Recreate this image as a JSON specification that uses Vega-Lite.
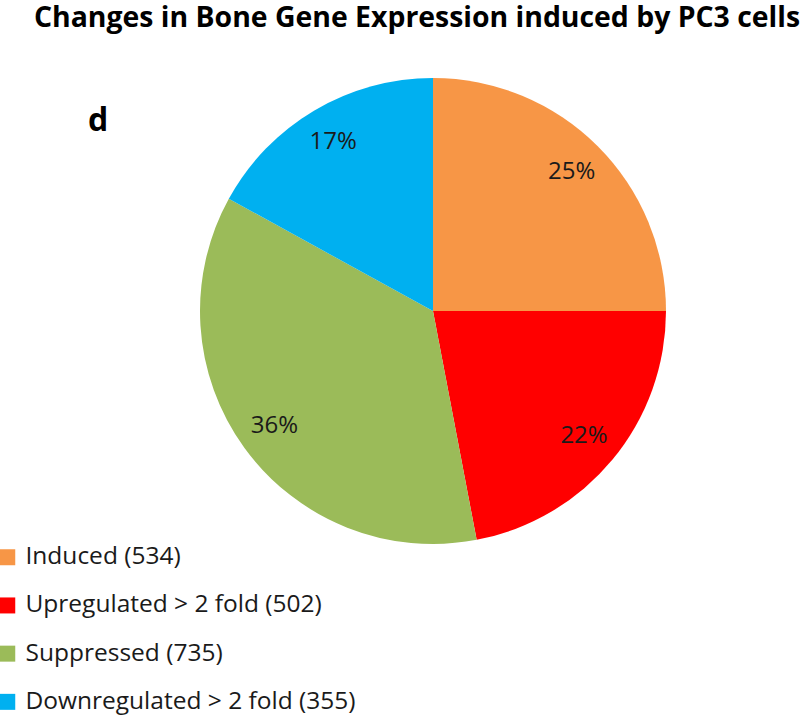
{
  "$schema": "https://vega.github.io/schema/vega-lite/v6.json",
  "width": 734,
  "height": 522,
  "padding": {"left": 66, "top": 50, "right": 0, "bottom": 143},
  "autosize": {"type": "none"},
  "background": "white",
  "title": {
    "text": "Changes in Bone Gene Expression induced by PC3 cells",
    "subtitle": "d",
    "font": "Open Sans",
    "fontSize": 28.4,
    "fontWeight": "bold",
    "color": "#000000",
    "subtitleFont": "Open Sans",
    "subtitleFontSize": 32,
    "subtitleFontWeight": "bold",
    "subtitleColor": "#000000",
    "anchor": "middle",
    "dx": -16,
    "offset": -88,
    "encode": {"subtitle": {"update": {"dx": {"value": -335}, "dy": {"value": 70}}}}
  },
  "data": {
    "values": [
      {"category": "Induced (534)", "share": 0.25, "order": 1},
      {"category": "Upregulated > 2 fold (502)", "share": 0.22, "order": 2},
      {"category": "Suppressed (735)", "share": 0.36, "order": 3},
      {"category": "Downregulated > 2 fold (355)", "share": 0.17, "order": 4}
    ]
  },
  "encoding": {
    "theta": {"field": "share", "type": "quantitative", "stack": true},
    "order": {"field": "order", "type": "quantitative"}
  },
  "layer": [
    {
      "mark": {"type": "arc", "radius": 233, "stroke": null},
      "encoding": {
        "color": {
          "field": "category",
          "type": "nominal",
          "scale": {
            "domain": ["Induced (534)", "Upregulated > 2 fold (502)", "Suppressed (735)", "Downregulated > 2 fold (355)"],
            "range": ["#F79646", "#FF0000", "#9BBB59", "#00B0F0"]
          },
          "legend": {
            "title": null,
            "orient": "none",
            "legendX": -71,
            "legendY": 495,
            "symbolType": "square",
            "symbolSize": 256,
            "symbolStrokeWidth": 0,
            "symbolOpacity": 1,
            "labelFont": "Open Sans",
            "labelFontSize": 24.5,
            "labelColor": "#1a1a1a",
            "labelOffset": 6,
            "rowPadding": 23.2,
            "padding": 0,
            "labelLimit": 500
          }
        }
      }
    },
    {
      "mark": {"type": "text", "radius": 196, "font": "Open Sans", "fontSize": 24, "fill": "#1a1a1a"},
      "encoding": {"text": {"field": "share", "type": "quantitative", "format": ".0%"}}
    }
  ],
  "config": {"view": {"stroke": null}}
}
